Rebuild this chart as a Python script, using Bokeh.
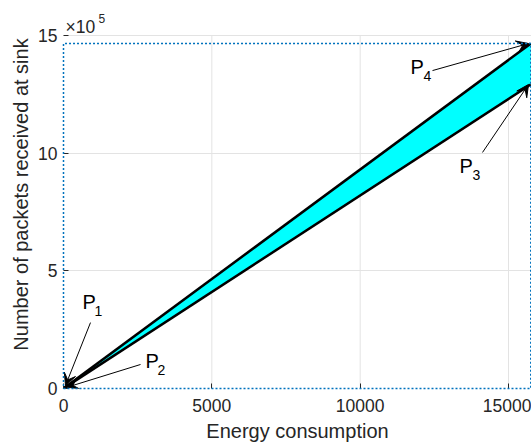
from bokeh.plotting import figure
from bokeh.models import Label, Arrow, VeeHead, FixedTicker, Range1d
from bokeh.embed import file_html
from bokeh.resources import INLINE

# ---- data ----
energy = [0, 15750]                 # x end points of the two boundary lines
packets_upper = [0, 1466000]        # upper boundary (P1 -> P4)
packets_lower = [0, 1292000]        # lower boundary (P2 -> P3)
x_ticks = [0, 5000, 10000, 15000]
y_ticks = [0, 500000, 1000000, 1500000]
y_tick_labels = ["0", "5", "10", "15"]

FONT = "Liberation Sans"
AX = "#262626"
GRID = "#e3e3e3"

W, H = 531, 446
LEFT, BOTTOM, TOP_AXES = 63, 58, 35          # pixel layout of the MATLAB axes box
frame_h = H - BOTTOM
axes_h = frame_h - TOP_AXES
y_top = y_ticks[-1] * frame_h / axes_h      # extra headroom for the x10^5 label

p = figure(width=W, height=H, output_backend="svg", toolbar_location=None,
           x_range=Range1d(0, 15775), y_range=Range1d(0, y_top),
           min_border_left=LEFT, min_border_right=0, min_border_top=0, min_border_bottom=BOTTOM)
p.outline_line_color = None
p.background_fill_color = "white"

# grid: horizontal via ygrid, vertical drawn only up to the top of the axes box
p.xgrid.visible = False
p.ygrid.ticker = FixedTicker(ticks=y_ticks)
p.ygrid.grid_line_color = GRID
p.segment(x0=x_ticks[1:], y0=[0] * 3, x1=x_ticks[1:], y1=[y_ticks[-1]] * 3,
          line_color=GRID, line_width=1, level="underlay")

# wedge fill
xs = energy + energy[::-1]
ys = packets_upper + packets_lower[::-1]
p.patch(xs, ys, fill_color="#00FFFF", line_color=None)
p.line(energy, packets_upper, line_color="black", line_width=2.5)
p.line(energy, packets_lower, line_color="black", line_width=2.5)

# dotted bounding box
xmax = energy[-1]
ymax = max(packets_upper)
p.line([0, xmax, xmax, 0, 0], [0, 0, ymax, ymax, 0], line_color="#0072BD",
       line_width=1.5, line_dash="2 2", level="overlay")

# axes
for ax in (p.xaxis[0], p.yaxis[0]):
    ax.axis_line_color = None
    ax.major_tick_in = 5
    ax.major_tick_out = 0
    ax.minor_tick_line_color = None
    ax.major_tick_line_color = AX
    ax.major_label_text_font = FONT
    ax.major_label_text_font_size = "17.5px"
    ax.major_label_text_color = AX
    ax.axis_label_text_font = FONT
    ax.axis_label_text_font_size = "20px"
    ax.axis_label_text_font_style = "normal"
    ax.axis_label_text_color = AX

p.xaxis.ticker = FixedTicker(ticks=x_ticks)
p.yaxis.ticker = FixedTicker(ticks=y_ticks)
p.yaxis.major_label_overrides = {t: l for t, l in zip(y_ticks, y_tick_labels)}
p.xaxis.axis_label = "Energy consumption"
p.yaxis.axis_label = "Number of packets received at sink"
p.xaxis.major_label_standoff = 10
p.yaxis.major_label_standoff = 6
p.xaxis.axis_label_standoff = 5
p.yaxis.axis_label_standoff = 3

# exponent label
p.add_layout(Label(x=0, y=y_ticks[-1], x_offset=2, y_offset=9, text="\u00d710",
                   text_font=FONT, text_font_size="17.5px", text_color=AX,
                   text_baseline="alphabetic"))
p.add_layout(Label(x=0, y=y_ticks[-1], x_offset=35, y_offset=17, text="5",
                   text_font=FONT, text_font_size="12px", text_color=AX,
                   text_baseline="alphabetic"))

# arrows (tail -> tip)
arrows = [
    ((910, 280000), (67, 12700)),
    ((2596, 102000), (124, 5500)),
    ((14123, 1003000), (15674, 1292000)),
    ((12438, 1351000), (15674, 1466000)),
]
for (x0, y0), (x1, y1) in arrows:
    p.add_layout(Arrow(x_start=x0, y_start=y0, x_end=x1, y_end=y1,
                       line_color="black", line_width=1,
                       end=VeeHead(size=12, fill_color="black", line_color="black")))

# P labels
labels = [
    ("1", 640, 335700, 12),
    ("2", 2764, 85000, 12),
    ("3", 13348, 913600, 13),
    ("4", 11697, 1334300, 13),
]
for sub, x, y, dx in labels:
    p.add_layout(Label(x=x, y=y, y_offset=7, text="P", text_font=FONT, text_font_size="20px",
                       text_color="black", text_baseline="alphabetic"))
    p.add_layout(Label(x=x, y=y, x_offset=dx, y_offset=-2, text=sub, text_font=FONT,
                       text_font_size="14px", text_color="black", text_baseline="alphabetic"))

open("out.html", "w").write(file_html(p, INLINE))
